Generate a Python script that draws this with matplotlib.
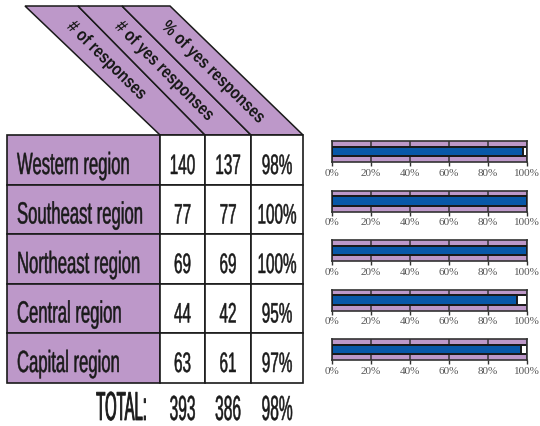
import math
import matplotlib.pyplot as plt
from matplotlib.patches import Polygon, Rectangle
from matplotlib.patheffects import AbstractPathEffect
from matplotlib.transforms import Affine2D

# Survey results by region
regions = ['Western region', 'Southeast region', 'Northeast region',
           'Central region', 'Capital region']
responses = [140, 77, 69, 44, 63]
yes_responses = [137, 77, 69, 42, 61]
yes_pct = [98, 100, 100, 95, 97]
total_responses = 393
total_yes = 386
total_pct = 98
headers = ['# of responses', '# of yes responses', '% of yes responses']
pct_ticks = [0, 20, 40, 60, 80, 100]
pct_labels = ['0%', '20%', '40%', '60%', '80%', '100%']

purple = '#BD98C9'
blue = '#0858A8'
ink = '#1a1a1a'
sans = ['Liberation Sans', 'DejaVu Sans']


class Tall(AbstractPathEffect):
    """Stretches glyphs vertically so a regular face reads like a
    compressed display face; weight thickens the strokes a little."""

    def __init__(self, sy, middle=False, weight=0.0):
        super().__init__()
        self.sy = sy
        self.middle = middle
        self.weight = weight

    def draw_path(self, renderer, gc, tpath, affine, rgbFace=None):
        y0 = 0
        if self.middle:
            ext = tpath.get_extents()
            y0 = (ext.y0 + ext.y1) / 2
        pre = Affine2D().translate(0, -y0).scale(1, self.sy).translate(0, y0)
        gc0 = renderer.new_gc()
        gc0.copy_properties(gc)
        gc0.set_linewidth(self.weight)
        gc0.set_joinstyle('round')
        if self.weight:
            gc0.set_foreground(rgbFace)
        renderer.draw_path(gc0, tpath, pre + affine, rgbFace)
        gc0.restore()


fig = plt.figure(figsize=(5.4, 4.27), dpi=100)
ax = fig.add_axes([0, 0, 1, 1])
ax.set_xlim(0, 540)
ax.set_ylim(427, 0)
ax.axis('off')

# table geometry (pixels)
cols = [7, 160, 205, 251, 303]
top_x = [25, 78, 122, 170]
head_top, table_top, row_h = 7, 136, 49.5

# slanted header strips
for i, h in enumerate(headers):
    ax.add_patch(Polygon([(top_x[i], head_top), (top_x[i + 1], head_top),
                          (cols[i + 2], table_top), (cols[i + 1], table_top)],
                         closed=True, fc=purple, ec=ink, lw=1.1))
    ctop = (top_x[i] + top_x[i + 1]) / 2
    cbot = (cols[i + 1] + cols[i + 2]) / 2
    ang = -math.degrees(math.atan2(table_top - head_top, cbot - ctop))
    ys = 25
    xs = ctop + (ys - head_top) / (table_top - head_top) * (cbot - ctop)
    ax.text(xs, ys, h, rotation=ang, rotation_mode='anchor', ha='left', va='center',
            family=sans, weight='bold', size=10.6, color=ink,
            path_effects=[Tall(1.22, middle=True)])

# table body
for r, name in enumerate(regions):
    y0 = table_top + r * row_h
    ax.add_patch(Rectangle((cols[0], y0), cols[1] - cols[0], row_h,
                           fc=purple, ec=ink, lw=1.2))
    for c in range(1, 4):
        ax.add_patch(Rectangle((cols[c], y0), cols[c + 1] - cols[c], row_h,
                               fc='white', ec=ink, lw=1.2))
    ax.text(17, y0 + 39, name, ha='left', va='baseline', family=sans, size=12,
            color=ink, path_effects=[Tall(1.84, weight=0.35)])
    vals = [str(responses[r]), str(yes_responses[r]), f'{yes_pct[r]}%']
    for c, v in enumerate(vals):
        ax.text((cols[c + 1] + cols[c + 2]) / 2, y0 + 39, v, ha='center', va='baseline',
                family=sans, size=11, color=ink, path_effects=[Tall(1.84, weight=0.35)])

# totals
ax.text(147, 421, 'TOTAL:', ha='right', va='baseline', family=sans, size=10.7,
        color=ink, path_effects=[Tall(2.72, weight=0.6)])
for c, v in enumerate([str(total_responses), str(total_yes), f'{total_pct}%']):
    ax.text((cols[c + 1] + cols[c + 2]) / 2, 421, v, ha='center', va='baseline',
            family=sans, size=11.2, color=ink, path_effects=[Tall(2.24, weight=0.35)])

# small percentage bars beside each row
for r, pct in enumerate(yes_pct):
    top = table_top + r * row_h + 6
    bax = fig.add_axes([332 / 540, 1 - (top + 21) / 427, 195 / 540, 21 / 427])
    bax.set_facecolor(purple)
    bax.barh(0.5, 100, height=0.45, color='white', edgecolor=ink, lw=1.4, zorder=2)
    bax.barh(0.5, pct, height=0.45, color=blue, edgecolor=ink, lw=1.4, zorder=3)
    bax.set_xlim(0, 100)
    bax.set_ylim(0, 1)
    bax.set_xticks(pct_ticks, pct_labels)
    bax.set_yticks([])
    bax.grid(axis='x', color='#333333', lw=1.1)
    bax.set_axisbelow(True)
    for s in bax.spines.values():
        s.set_color('#333333')
        s.set_linewidth(1.2)
    bax.tick_params(axis='x', length=3, width=1, color='#333333', pad=1,
                    labelsize=8, labelcolor='#555555')
    for lab in bax.get_xticklabels():
        lab.set_family('Liberation Serif')

fig.savefig('out.png', dpi=100)
